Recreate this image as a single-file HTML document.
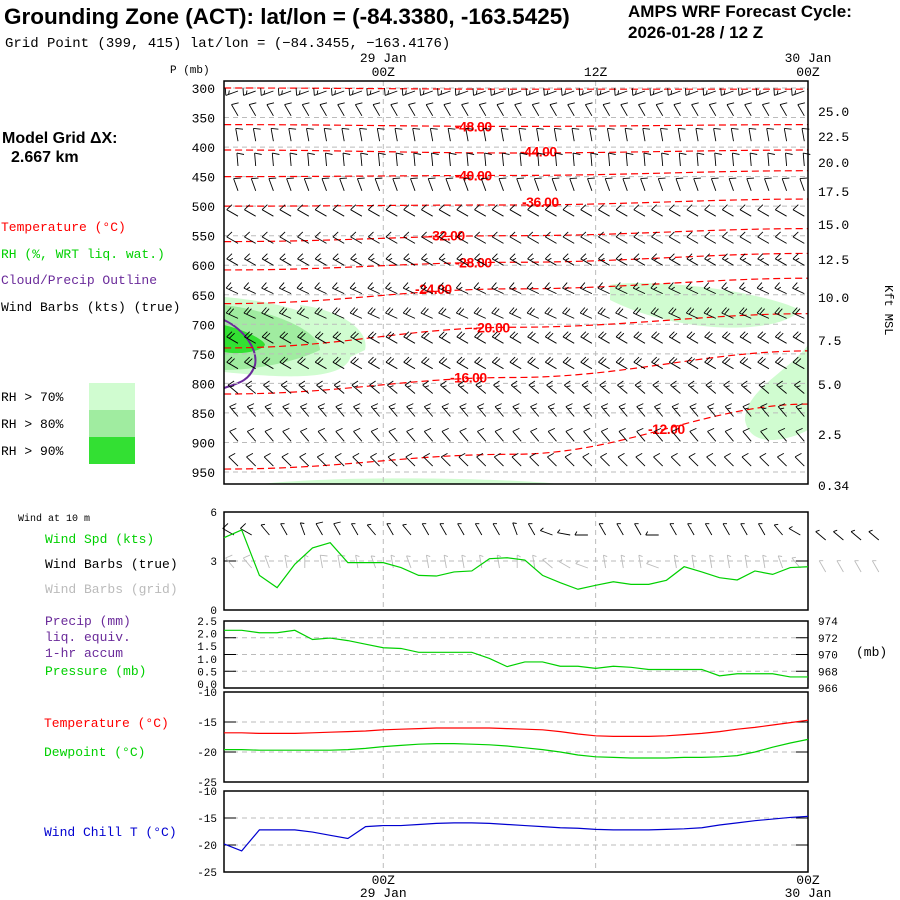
<!DOCTYPE html>
<html><head><meta charset="utf-8"><style>
body{margin:0;background:#fff}
svg{display:block}
text{font-family:"Liberation Mono",monospace;font-size:13px}
.b{font-family:"Liberation Sans",sans-serif;font-weight:bold}
</style></head><body>
<svg id="c" width="900" height="900" viewBox="0 0 900 900">
<text class="b" x="4" y="24" style="font-size:22.5px">Grounding Zone (ACT):  lat/lon = (-84.3380, -163.5425)</text>
<text class="b" x="628" y="17" style="font-size:17px">AMPS WRF Forecast Cycle:</text>
<text class="b" x="628" y="38" style="font-size:17px">2026-01-28 / 12  Z</text>
<text x="5" y="47" style="font-size:14px">Grid Point (399, 415) lat/lon = (−84.3455, −163.4176)</text>
<text class="b" x="2" y="143" style="font-size:16px">Model Grid ΔX:</text>
<text class="b" x="11" y="162" style="font-size:16px">2.667 km</text>
<text x="1" y="231" fill="#f00">Temperature (°C)</text>
<text x="1" y="258" fill="#00d000">RH (%, WRT liq. wat.)</text>
<text x="1" y="284" fill="#6a2a9a">Cloud/Precip Outline</text>
<text x="1" y="311" fill="#000">Wind Barbs (kts) (true)</text>
<rect x="89" y="383" width="46" height="27" fill="#d0fcd0"/>
<rect x="89" y="410" width="46" height="27" fill="#a0eca0"/>
<rect x="89" y="437" width="46" height="27" fill="#33e033"/>
<text x="1" y="401">RH &gt; 70%</text>
<text x="1" y="428">RH &gt; 80%</text>
<text x="1" y="455">RH &gt; 90%</text>
<text x="170" y="73" style="font-size:11px">P (mb)</text>
<text x="885" y="285" transform="rotate(90 885 285)" style="font-size:12px">Kft MSL</text>
<text x="856" y="656">(mb)</text>
<text x="18" y="521" style="font-size:10px">Wind at 10 m</text>
<text x="45" y="543" fill="#00d000">Wind Spd (kts)</text>
<text x="45" y="568">Wind Barbs (true)</text>
<text x="45" y="593" fill="#bbb">Wind Barbs (grid)</text>
<text x="45" y="625" fill="#6a2a9a">Precip (mm)</text>
<text x="45" y="641" fill="#6a2a9a">liq. equiv.</text>
<text x="45" y="657" fill="#6a2a9a">1-hr accum</text>
<text x="45" y="675" fill="#00d000">Pressure (mb)</text>
<text x="44" y="727" fill="#f00">Temperature (°C)</text>
<text x="44" y="756" fill="#00d000">Dewpoint (°C)</text>
<text x="44" y="836" fill="#0000d0">Wind Chill T (°C)</text>
<g id="g"></g>
</svg>
<script>
// ---- data ----
const hours = [0,1,2,3,4,5,6,7,8,9,10,11,12,13,14,15,16,17,18,19,20,21,22,23,24,25,26,27,28,29,30,31,32];
const pLabels = [300,350,400,450,500,550,600,650,700,750,800,850,900,950];
const kftLabels = ["25.0","22.5","20.0","17.5","15.0","12.5","10.0","7.5","5.0","2.5","0.34"];
const kftY = [111,136,162,191,224,259,297,340,384,434,485];
const barbP = [300,342,385,427,469,512,558,595,643,685,727,770,812,851,893,935];
const barbDir = [250,330,350,355,340,300,300,300,295,295,300,300,310,320,320,315];
const barbSpd = [15,10,10,10,10,10,10,15,15,20,20,20,15,15,10,10];
const windSpd = [4.43,4.9,2.12,1.37,2.8,3.8,4.12,2.9,2.9,2.9,2.6,2.12,2.08,2.33,2.39,3.14,3.2,3.06,2.12,1.67,1.27,1.51,1.73,1.57,1.57,1.82,2.65,2.33,1.98,1.84,2.39,2.18,2.6,2.65];
const pressure = [972.89,972.89,972.6,972.6,972.89,971.79,971.96,971.66,971.23,970.81,970.72,970.26,970.26,970.26,970.26,969.53,968.55,969.11,969.11,968.6,968.6,968.34,968.6,968.47,968.21,968.21,968.21,968.21,967.45,967.7,967.7,967.7,967.32,967.32];
const temp = [-16.8,-16.8,-16.9,-16.9,-16.9,-16.8,-16.7,-16.6,-16.5,-16.3,-16.2,-16.1,-16.0,-16.0,-16.0,-16.0,-16.1,-16.2,-16.3,-16.6,-17.0,-17.3,-17.4,-17.4,-17.4,-17.3,-17.1,-16.9,-16.6,-16.2,-15.9,-15.5,-15.1,-14.7];
const dewpt = [-19.6,-19.6,-19.7,-19.7,-19.7,-19.7,-19.7,-19.6,-19.4,-19.1,-18.9,-18.7,-18.6,-18.6,-18.7,-18.8,-19.0,-19.3,-19.6,-20.0,-20.5,-20.8,-20.9,-21.0,-21.0,-21.0,-20.9,-20.9,-20.8,-20.6,-20.0,-19.2,-18.5,-17.9];
const wchill = [-19.8,-21.1,-17.2,-17.2,-17.2,-17.6,-18.2,-18.8,-16.6,-16.4,-16.4,-16.2,-16.0,-15.9,-15.9,-16.0,-16.2,-16.4,-16.6,-16.8,-16.9,-17.1,-17.2,-17.2,-17.2,-17.1,-17.0,-16.8,-16.3,-15.9,-15.5,-15.2,-14.9,-14.7];
const sfcDir = [300,300,320,330,340,330,330,330,320,330,320,330,330,330,330,330,340,330,290,280,270,330,330,330,270,330,330,330,330,330,330,320,300,300];
// temperature contours: [label, pressure at left, pressure mid, pressure at right, label x]
const tContours = [["",300,302,302,0],["-48.00",362,365,362,455],["-44.00",405,410,405,520],["-40.00",450,448,440,455],["-36.00",500,498,488,522],["-32.00",560,550,538,428],["-28.00",608,595,580,455],["-24.00",665,640,622,415],["-20.00",740,705,682,473],["-16.00",818,790,745,450],["-12.00",945,920,835,648]];

const NS='http://www.w3.org/2000/svg', G=document.getElementById('g');
function el(t,a,parent){const e=document.createElementNS(NS,t);for(const k in a)e.setAttribute(k,a[k]);(parent||G).appendChild(e);return e;}
const X0=224,X1=808;
const xh = h => X0 + h*(X1-X0)/33;
const yp = p => 88 + (p-300)*(472-88)/650;

const shade=[["#d0fcd0","M224,297 C260,300 330,310 350,345 C360,380 300,380 224,372 Z"],
["#d0fcd0","M300,305 C340,310 370,330 365,350 L340,362 L300,340 Z"],
["#a0eca0","M224,305 C270,310 320,330 320,350 C300,360 260,370 224,370 Z"],
["#33e033","M224,325 C245,330 265,340 265,345 C260,352 240,355 224,352 Z"],
["#d0fcd0","M610,285 C650,278 760,290 800,310 C780,335 680,335 610,300 Z"],
["#d0fcd0","M808,345 C790,370 745,390 745,420 C750,450 790,440 808,430 Z"],
["#d0fcd0","M260,484 C350,475 500,478 560,484 Z"]];
shade.forEach(s=>{const e=el('path',{d:s[1],fill:s[0]});

});
el('path',{d:"M224,320 C245,330 258,350 255,365 C250,380 240,383 224,388",fill:"none",stroke:"#6a2a9a","stroke-width":2,});

pLabels.forEach(p=>{const l=el('line',{x1:X0,x2:X1,y1:yp(p),y2:yp(p),stroke:'#bbb','stroke-dasharray':'5,4'});


const t=el('text',{x:215,y:yp(p)+5,'text-anchor':'end'});t.textContent=p;

});
kftLabels.forEach((k,i)=>{const t=el('text',{x:818,y:kftY[i]+5});t.textContent=k;

});
[9,21].forEach(h=>{[[81,484],[512,610],[621,688],[692,782],[791,872]].forEach(r=>{const l=el('line',{x1:xh(h),x2:xh(h),y1:r[0],y2:r[1],stroke:'#bbb','stroke-dasharray':'5,4'});

});});

tContours.forEach(c=>{const y0=yp(c[1]),ym=yp(c[2]),y1=yp(c[3]);
const l=el('path',{d:`M${X0},${y0} C${X0+120},${y0} ${X0+180},${ym} ${X0+290},${ym} S${X1-100},${y1} ${X1},${y1}`,fill:'none',stroke:'#f00','stroke-dasharray':'7,4','stroke-width':1.2});


if(c[0]){const ly=c[4]<500?ym:(c[4]<700?(ym+y1)/2:y1);
const t=el('text',{x:c[4],y:ly+5,fill:'#f00'});t.setAttribute('style','font-size:14px;font-weight:bold;font-family:Liberation Sans,sans-serif;letter-spacing:-0.5px');t.textContent=c[0];

}});

function barb(x,y,dir,spd,col,parent){
 const a=(dir-90)*Math.PI/180;
 const dx=Math.cos(a),dy=Math.sin(a),L=13;
 const ex=x+dx*L,ey=y+dy*L;
 let d=`M${x.toFixed(1)},${y.toFixed(1)}L${ex.toFixed(1)},${ey.toFixed(1)}`;
 let n=Math.round(spd/5),pos=0;
 const px=-dy,py=dx;
 while(n>0){const bx=ex-dx*pos*3,by=ey-dy*pos*3;const len=n>=2?7:3.5;
  d+=`M${bx.toFixed(1)},${by.toFixed(1)}L${(bx+px*len-dx*2).toFixed(1)},${(by+py*len-dy*2).toFixed(1)}`;n-=2;pos++;}
 const e=el('path',{d:d,stroke:col,fill:'none','stroke-width':0.9},parent);
 
 
}
barbP.forEach((p,i)=>hours.forEach(h=>barb(xh(h)+14,yp(p)+3,barbDir[i],barbSpd[i],'#000')));

el('rect',{x:X0,y:81,width:X1-X0,height:403,fill:'none',stroke:'#000','stroke-width':1.5,});

[[9,'29 Jan','00Z'],[21,'','12Z'],[33,'30 Jan','00Z']].forEach(t=>{
 if(t[1]){const a=el('text',{x:xh(t[0]),y:62,'text-anchor':'middle'});a.textContent=t[1];}
 const b=el('text',{x:xh(t[0]),y:76,'text-anchor':'middle'});b.textContent=t[2];});
[[9,'00Z','29 Jan'],[33,'00Z','30 Jan']].forEach(t=>{
 const a=el('text',{x:xh(t[0]),y:884,'text-anchor':'middle'});a.textContent=t[1];
 const b=el('text',{x:xh(t[0]),y:897,'text-anchor':'middle'});b.textContent=t[2];});

function panel(top,bot,lo,hi,ticks,mid,name){
 el('rect',{x:X0,y:top,width:X1-X0,height:bot-top,fill:'none',stroke:'#000','stroke-width':1.5,});
 const y=v=>bot-(v-lo)*(bot-top)/(hi-lo);
 ticks.forEach(v=>{const t=el('text',{x:217,y:y(v)+4,'text-anchor':'end'});t.setAttribute('style','font-size:11px');t.textContent=v;
  });
 mid.forEach(v=>{el('line',{x1:X0,x2:X1,y1:y(v),y2:y(v),stroke:'#bbb','stroke-dasharray':'5,4'});
  el('line',{x1:X0,x2:X0+12,y1:y(v),y2:y(v),stroke:'#000'});el('line',{x1:X1-12,x2:X1,y1:y(v),y2:y(v),stroke:'#000'});});
 return y;}
function line(arr,y,col,name){const d=arr.map((v,i)=>(i?'L':'M')+xh(i)+','+y(v)).join('');
 const e=el('path',{d:d,fill:'none',stroke:col,'stroke-width':1.2});}

const yw=panel(512,610,0,6,[6,3,0],[3],'wind-panel');
hours.forEach(h=>{barb(xh(h)+10,535,sfcDir[h],windSpd[h]*2,'#000');barb(xh(h)+10,568,sfcDir[h]+20,windSpd[h]*2,'#bbb');});
[34,35,36,37].forEach(h=>barb(xh(h),540,310,5,'#000'));
[34,35,36,37].forEach(h=>barb(xh(h),572,330,5,'#bbb'));
line(windSpd,yw,'#00d000','wind-speed-line');

const ypr=panel(621,688,966,974,[],[968,970,972],'pressure-panel');
["2.5","2.0","1.5","1.0","0.5","0.0"].forEach((s,i)=>{const t=el('text',{x:217,y:625+i*12.6,'text-anchor':'end'});t.setAttribute('style','font-size:11px');t.textContent=s;});
[974,972,970,968,966].forEach(v=>{const t=el('text',{x:818,y:ypr(v)+4});t.setAttribute('style','font-size:11px');t.textContent=v;});
line(pressure,ypr,'#00d000','pressure-line');

const yt=panel(692,782,-25,-10,[-10,-15,-20,-25],[-15,-20],'temp-panel');
line(temp,yt,'#f00','temperature-line');
line(dewpt,yt,'#00d000','dewpoint-line');
const yc=panel(791,872,-25,-10,[-10,-15,-20,-25],[-15,-20],'windchill-panel');
line(wchill,yc,'#0000d0','windchill-line');
</script>
</body></html>
